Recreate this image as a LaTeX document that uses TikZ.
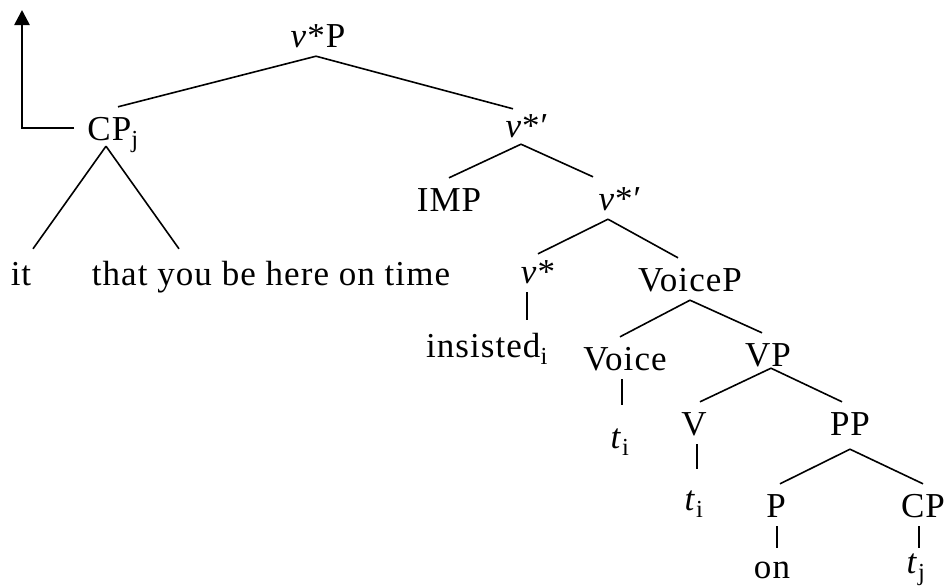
\documentclass[tikz,border=0pt]{standalone}
\usepackage{fontspec}
\setmainfont{Liberation Serif}[LetterSpace=3]
\usepackage{tikz}
\usetikzlibrary{arrows.meta}
\tikzset{
  cat/.style={inner sep=0pt, anchor=base, text height=33pt, text depth=9pt,
    font=\fontsize{35}{42}\selectfont},
  branch/.style={line width=1.6pt},
  unary/.style={line width=1.6pt},
  movearrow/.style={line width=2.6pt, -{Triangle[length=15pt,width=15pt]}}
}

\begin{document}
\begin{tikzpicture}[x=1pt, y=-1pt]
\useasboundingbox (0,0) rectangle (947,587);

\node (vP)      [cat] at (318,47)  {\textit{v}*P};
\node (CPj)     [cat] at (113,140) {CP\textsubscript{j}};
\node (it)      [cat] at (21,285)  {it};
\node (that)    [cat] at (271,285) {that you be here on time};
\node (vbarA)   [cat] at (527,137) {\textit{v}*′};
\node (IMP)     [cat] at (449,211) {IMP};
\node (vbarB)   [cat] at (620,210) {\textit{v}*′};
\node (vstar)   [cat] at (538,283) {\textit{v}*};
\node (VoiceP)  [cat] at (690,291) {VoiceP};
\node (insisted)[cat] at (487,357) {insisted\textsubscript{i}};
\node (Voice)   [cat] at (625,370) {Voice};
\node (tiA)     [cat] at (620,448) {\textit{t}\textsubscript{i}};
\node (VP)      [cat] at (768,366) {VP};
\node (V)       [cat] at (694,435) {V};
\node (tiB)     [cat] at (694,510) {\textit{t}\textsubscript{i}};
\node (PP)      [cat] at (850,435) {PP};
\node (P)       [cat] at (776,517) {P};
\node (CP)      [cat] at (923,517) {CP};
\node (on)      [cat] at (772,578) {on};
\node (tj)      [cat] at (916,573) {\textit{t}\textsubscript{j}};
\coordinate (movetop) at (22,10);

\draw[branch] ([xshift=-2pt]vP.south) -- ([xshift=5pt]CPj.north);
\draw[branch] ([xshift=-2pt]vP.south) -- ([xshift=-14pt,yshift=-5pt]vbarA.north);
\draw[branch] ([xshift=-7pt,yshift=3pt]CPj.south) -- ([xshift=12pt,yshift=3pt]it.north);
\draw[branch] ([xshift=-7pt,yshift=3pt]CPj.south) -- ([xshift=-92pt,yshift=3pt]that.north);
\draw[branch] ([xshift=-6pt,yshift=2pt]vbarA.south) -- (IMP.north);
\draw[branch] ([xshift=-6pt,yshift=2pt]vbarA.south) -- ([xshift=-27pt]vbarB.north);
\draw[branch] ([xshift=-12pt]vbarB.south) -- ([yshift=-4pt]vstar.north);
\draw[branch] ([xshift=-12pt]vbarB.south) -- ([xshift=-12pt]VoiceP.north);
\draw[branch] (VoiceP.south) -- ([xshift=-5pt]Voice.north);
\draw[branch] (VoiceP.south) -- ([xshift=-6pt]VP.north);
\draw[branch] ([xshift=3pt,yshift=7pt]VP.south) -- ([xshift=6pt]V.north);
\draw[branch] ([xshift=3pt,yshift=7pt]VP.south) -- ([xshift=-8pt]PP.north);
\draw[branch] ([yshift=-5pt]PP.south) -- ([xshift=4pt]P.north);
\draw[branch] ([yshift=-5pt]PP.south) -- (CP.north);

\draw[unary, shorten >=4pt] ([xshift=-11pt]vstar.south) -- ([xshift=-11pt]vstar.south |- insisted.north);
\draw[unary, shorten >=10pt] ([xshift=-3pt]Voice.south) -- ([xshift=-3pt]Voice.south |- tiA.north);
\draw[unary, shorten >=8pt] ([xshift=3pt]V.south) -- ([xshift=3pt]V.south |- tiB.north);
\draw[unary, shorten >=-3pt] ([xshift=1pt]P.south) -- ([xshift=1pt]P.south |- on.north);
\draw[unary, shorten >=-8pt] ([xshift=-4pt]CP.south) -- ([xshift=-4pt]CP.south |- tj.north);

\draw[movearrow] ([xshift=-13pt]CPj.west) -| (movetop);
\end{tikzpicture}
\end{document}
